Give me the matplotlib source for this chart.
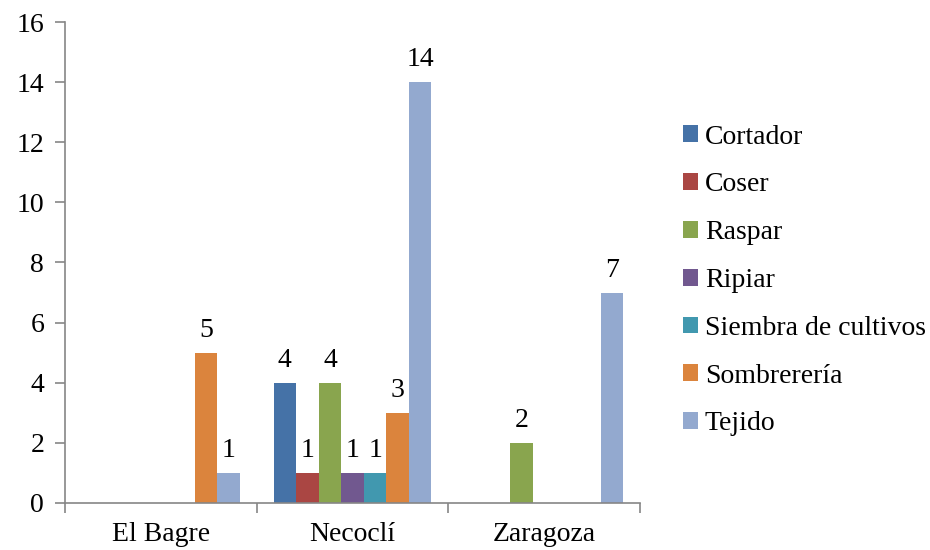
import matplotlib
matplotlib.use("Agg")
import matplotlib.pyplot as plt
import numpy as np

categories = ["El Bagre", "Necoclí", "Zaragoza"]
series_names = ["Cortador", "Coser", "Raspar", "Ripiar", "Siembra de cultivos", "Sombrerería", "Tejido"]
cortador = [0, 4, 0]
coser = [0, 1, 0]
raspar = [0, 4, 2]
ripiar = [0, 1, 0]
siembra = [0, 1, 0]
sombrereria = [5, 3, 0]
tejido = [1, 14, 7]
series_values = [cortador, coser, raspar, ripiar, siembra, sombrereria, tejido]
colors = ["#4572A7", "#AA4643", "#89A54E", "#71588F", "#4198AF", "#DB843D", "#93A9CF"]

plt.rcParams['font.family'] = ['Liberation Serif', 'DejaVu Serif']
FS = 20
fig = plt.figure(figsize=(9.3, 5.5), dpi=100)
ax = fig.add_axes([0.0699, 0.0855, 0.6183, 0.8745])

n = len(series_names)
bw = 1 / (n + 1.5)
x = np.arange(len(categories))
for i, (name, vals, c) in enumerate(zip(series_names, series_values, colors)):
    pos = x - n * bw / 2 + (i + 0.5) * bw
    bars = ax.bar(pos, vals, width=bw, color=c, label=name, linewidth=0)
    for b, v in zip(bars, vals):
        if v != 0:
            ax.annotate(str(v), (b.get_x() + b.get_width() / 2, v), xytext=(0, 7),
                        textcoords="offset points", ha="center", va="bottom", fontsize=FS)

ax.set_xlim(-0.5, 2.5)
ax.set_ylim(0, 16)
ax.set_yticks(range(0, 17, 2))
ax.set_xticks(x)
ax.set_xticklabels(categories)
ax.set_xticks([-0.5, 0.5, 1.5, 2.5], minor=True)
ax.tick_params(axis='x', which='major', length=0, pad=14, labelsize=FS)
ax.tick_params(axis='x', which='minor', length=7, color='#868686', width=1.2)
ax.tick_params(axis='y', length=7, color='#868686', width=1.2, labelsize=FS, pad=8)
for s in ['top', 'right']:
    ax.spines[s].set_visible(False)
for s in ['left', 'bottom']:
    ax.spines[s].set_color('#868686')
    ax.spines[s].set_linewidth(1.2)

fig.legend(loc='center left', bbox_to_anchor=(0.707, 0.49), frameon=False, fontsize=FS,
           handlelength=0.55, handleheight=0.55, handletextpad=0.25, labelspacing=0.82)

fig.savefig("out.png", dpi=100)
